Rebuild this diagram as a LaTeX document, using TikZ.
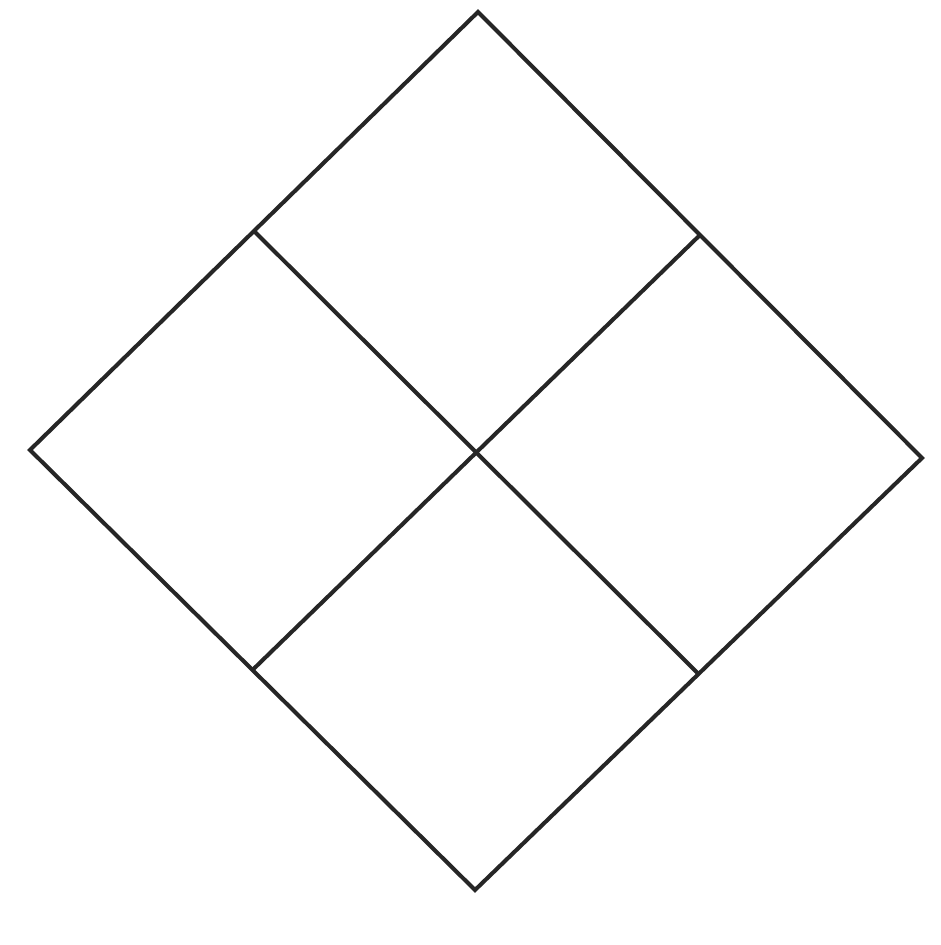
\documentclass[tikz,border=0pt]{standalone}
\usepackage{tikz}
\usetikzlibrary{calc}
\tikzset{
  rand/.style={draw=black!85,line width=1.15pt,line join=miter},
  delning/.style={draw=black!85,line width=1.15pt},
}
\begin{document}
\begin{tikzpicture}
\useasboundingbox (0,0) rectangle (9.40,9.45);
  \coordinate (top) at (4.78,9.33);
  \coordinate (vanster) at (0.30,4.95);
  \coordinate (botten) at (4.75,0.55);
  \coordinate (hoger) at (9.22,4.87);
  \draw[rand] (top) -- (vanster) -- (botten) -- (hoger) -- cycle;
  % delningslinjer
  \draw[delning] ($(top)!0.5!(vanster)$) -- ($(hoger)!0.5!(botten)$);
  \draw[delning] ($(top)!0.5!(hoger)$) -- ($(vanster)!0.5!(botten)$);
\end{tikzpicture}
\end{document}
